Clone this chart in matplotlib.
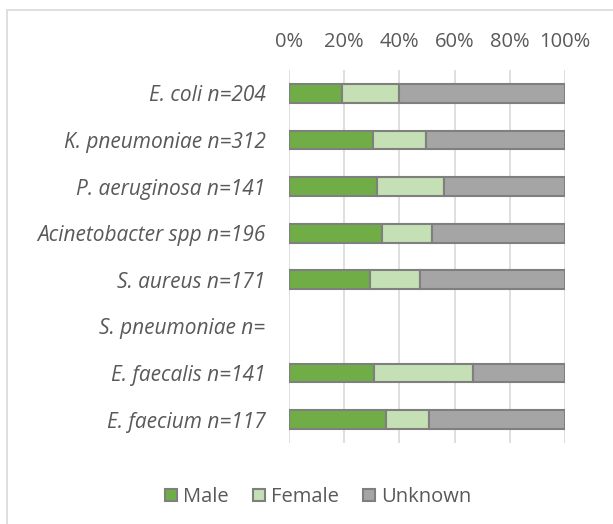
import matplotlib
matplotlib.use("Agg")
import matplotlib.pyplot as plt
from matplotlib.patches import Rectangle, Patch
import numpy as np

# data (percent of isolates)
organisms = ["E. coli n=204", "K. pneumoniae n=312", "P. aeruginosa n=141",
             "Acinetobacter spp n=196", "S. aureus n=171", "S. pneumoniae n=",
             "E. faecalis n=141", "E. faecium n=117"]
male = [19.1, 30.6, 32.0, 33.8, 29.2, 0.0, 30.8, 35.0]
female = [20.6, 19.2, 24.0, 18.1, 18.3, 0.0, 35.7, 15.6]
unknown = [60.3, 50.2, 44.0, 48.1, 52.5, 0.0, 33.5, 49.4]
tick_labels = ["0%", "20%", "40%", "60%", "80%", "100%"]

GREEN = "#70AD47"
LIGHT = "#C5E0B4"
GREY = "#A5A5A5"
EDGE = "#7F7F7F"
TEXT = "#595959"

plt.rcParams["font.family"] = ["Open Sans", "DejaVu Sans"]

fig = plt.figure(figsize=(6.13, 5.24), dpi=100)
# chart frame
fig.patches.append(Rectangle((7 / 613, -0.1), 1.2, 1 - 10 / 524 + 0.1,
                             transform=fig.transFigure, fill=False,
                             edgecolor="#D9D9D9", linewidth=1.2))

ax = fig.add_axes([289 / 613, 1 - 443 / 524, 276 / 613, 373 / 524])

y = np.arange(len(organisms))
left = np.zeros(len(organisms))
for vals, col, name in [(male, GREEN, "Male"), (female, LIGHT, "Female"),
                        (unknown, GREY, "Unknown")]:
    vals = np.array(vals)
    bars = ax.barh(y, vals, left=left, height=0.4, color=col, edgecolor=EDGE,
                   linewidth=1.5, label=name, zorder=3)
    for b, v in zip(bars, vals):
        if v == 0:
            b.set_visible(False)
    left += vals

ax.set_xlim(0, 100)
ax.set_ylim(len(organisms) - 0.5, -0.5)
ax.set_xticks(np.arange(0, 101, 20))
ax.set_xticklabels(tick_labels)
ax.xaxis.tick_top()
ax.tick_params(axis="x", length=0, pad=13, labelsize=14.5, colors=TEXT)
ax.set_yticks(y)
ax.set_yticklabels(organisms, fontstyle="italic")
ax.tick_params(axis="y", length=0, pad=17, labelsize=15, colors=TEXT)
ax.grid(axis="x", color="#D9D9D9", linewidth=1.2, zorder=0)
for s in ax.spines.values():
    s.set_visible(False)

handles = [Patch(facecolor=c, edgecolor=EDGE, linewidth=1.5, label=n)
           for c, n in [(GREEN, "Male"), (LIGHT, "Female"), (GREY, "Unknown")]]
leg = fig.legend(handles=handles, loc="center", bbox_to_anchor=(318 / 613, 1 - 497 / 524),
                 ncol=3, frameon=False, fontsize=14.5, handlelength=0.6,
                 handleheight=0.6, handletextpad=0.3, columnspacing=1.2)
for t in leg.get_texts():
    t.set_color(TEXT)

fig.savefig("out.png", dpi=100)
